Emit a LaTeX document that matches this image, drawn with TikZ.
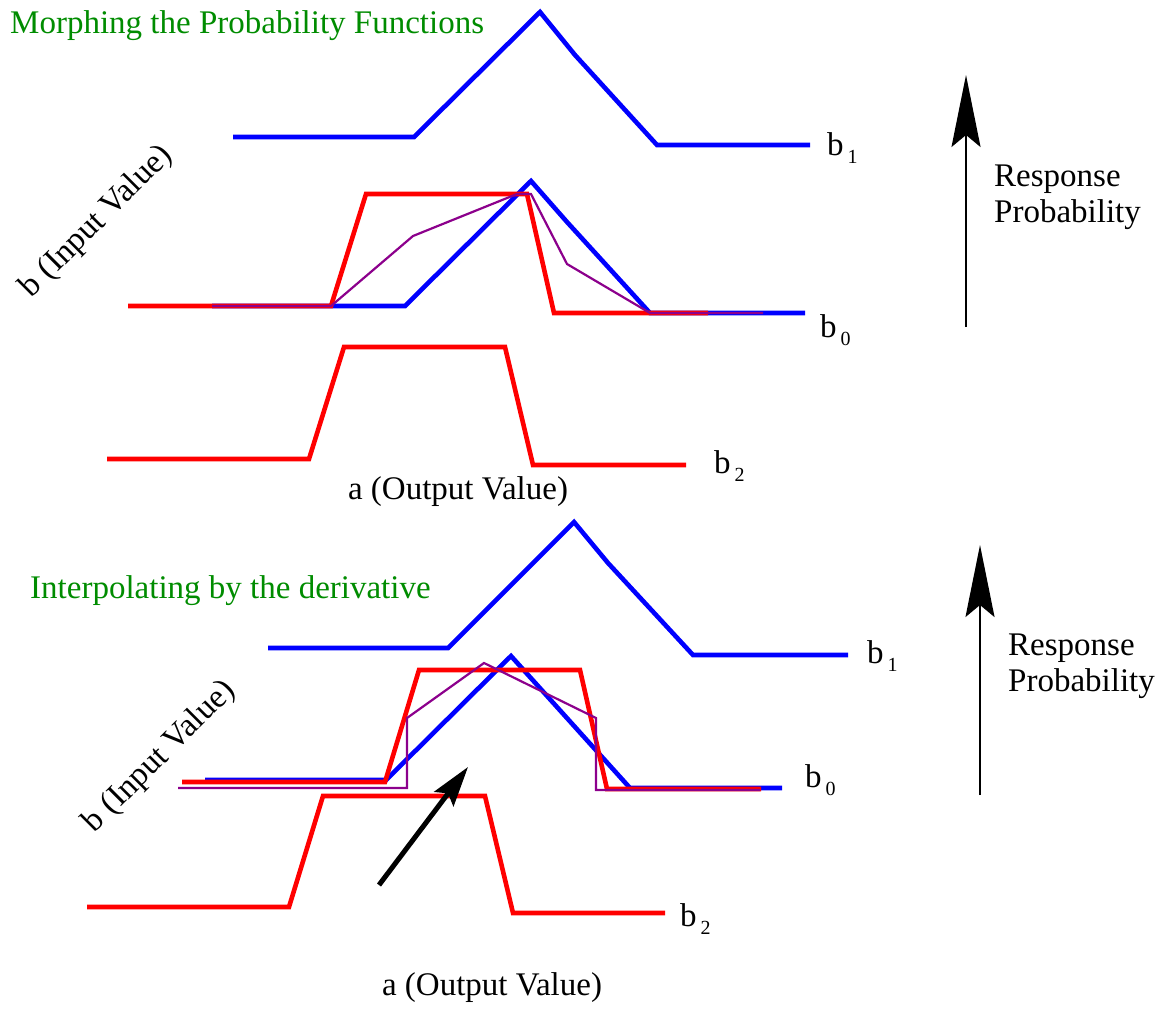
\documentclass[tikz,border=0pt]{standalone}
\usepackage{fontspec}
\setmainfont{Liberation Serif}
\usetikzlibrary{arrows.meta}
\definecolor{titlegreen}{RGB}{0,140,0}
\definecolor{mixpurple}{RGB}{140,0,140}
\newcommand{\bsub}[1]{b\kern4pt\raisebox{-8pt}{\fontsize{20}{20}\selectfont #1}}

\begin{document}
\begin{tikzpicture}[x=1pt, y=-1pt, font=\fontsize{33}{36}\selectfont,
  curve/.style={line width=4.6pt, miter limit=10},
  thin curve/.style={line width=2.2pt, mixpurple},
  resp/.style={line width=2pt, -{Stealth[length=72pt, width=29pt, inset=12pt]}},
  lbl/.style={anchor=base west, inner sep=0pt}]
  \useasboundingbox (0,0) rectangle (1165,1009);

  % --- top panel: morphing ---
  \node[titlegreen, anchor=base west, inner sep=0pt] (ttop) at (10,33) {Morphing the Probability Functions};
  \draw[curve, blue] (233,137) -- (414,137) -- (540,12) -- (575,55) -- (657,145) -- (810,145);
  \draw[curve, blue] (212,306) -- (405,306) -- (531,181) -- (567,222) -- (650,313) -- (805,313);
  \draw[curve, red] (128,306) -- (331,306) -- (366,194) -- (527,194) -- (554,313) -- (708,313);
  \draw[thin curve] (212,306) -- (331,306) -- (413,236) -- (517,194) -- (531,194) -- (567,264) -- (650,313) -- (763,313);
  \draw[curve, red] (107,459) -- (309,459) -- (344,347) -- (505,347) -- (533,465) -- (686,465);
  \node[lbl] (b1top) at (827,155) {\bsub{1}};
  \node[lbl] (b0top) at (820,337) {\bsub{0}};
  \node[lbl] (b2top) at (714,473) {\bsub{2}};
  \node[rotate=45] (inTop) at (97,222) {b (Input Value)};
  \node (outTop) at (458,492) {a (Output Value)};
  \coordinate (rtopA) at (966,327);
  \coordinate (rtopB) at (966,75);
  \draw[resp] (rtopA) -- (rtopB);
  \node[anchor=west, align=left, inner sep=0pt] (rtop) at (994,197) {Response\\Probability};

  % --- bottom panel: derivative ---
  \node[titlegreen, anchor=base west, inner sep=0pt] (tbot) at (30,598) {Interpolating by the derivative};
  \draw[curve, blue] (268,648) -- (448,648) -- (574,522) -- (608,563) -- (693,655) -- (848,655);
  \draw[curve, blue] (205,780) -- (386,780) -- (511,656) -- (630,788) -- (782,788);
  \draw[curve, red] (182,782) -- (385,782) -- (419,670) -- (580,670) -- (607,789) -- (761,789);
  \draw[thin curve] (178,788) -- (407,788) -- (407,718) -- (484,663) -- (596,718) -- (596,790) -- (760,790);
  \draw[curve, red] (87,907) -- (289,907) -- (323,796) -- (485,796) -- (513,913) -- (665,913);
  \node[lbl] (b1bot) at (867,663) {\bsub{1}};
  \node[lbl] (b0bot) at (805,787) {\bsub{0}};
  \node[lbl] (b2bot) at (680,926) {\bsub{2}};
  \node[rotate=45] (inBot) at (160,757) {b (Input Value)};
  \node (outBot) at (492,988) {a (Output Value)};
  \coordinate (rbotA) at (980,795);
  \coordinate (rbotB) at (980,545);
  \draw[resp] (rbotA) -- (rbotB);
  \node[anchor=west, align=left, inner sep=0pt] (rbot) at (1008,666) {Response\\Probability};
  \coordinate (dtail) at (379,885);
  \coordinate (dtip) at (468,767);
  \draw[line width=5pt, -{Stealth[length=40pt, width=24pt, inset=7pt]}] (dtail) -- (dtip);
\end{tikzpicture}
\end{document}
